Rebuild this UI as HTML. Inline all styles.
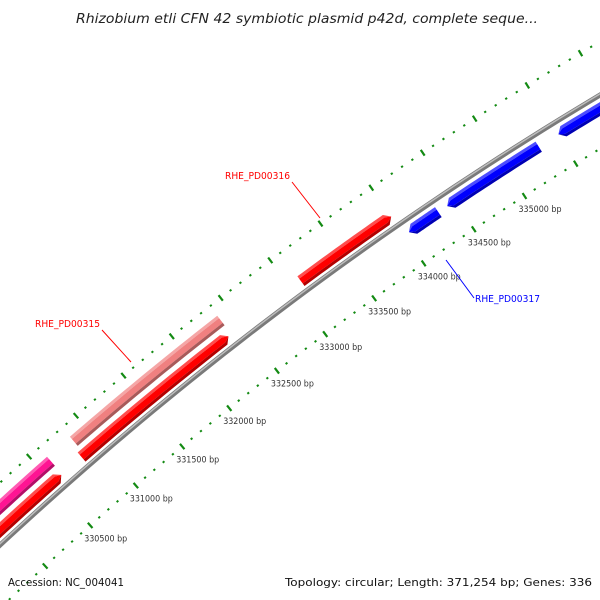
<!DOCTYPE html>
<html><head><meta charset="utf-8"><style>
html,body{margin:0;background:#fff;width:600px;height:600px;overflow:hidden}
svg{display:block;overflow:hidden}
text{font-family:"DejaVu Sans","Liberation Sans",sans-serif}
</style></head><body>
<svg id="map" width="600" height="600" viewBox="0 0 600 600">
<text x="76" y="23" font-style="italic" font-size="13" fill="#222" textLength="462" lengthAdjust="spacingAndGlyphs">Rhizobium etli CFN 42 symbiotic plasmid p42d, complete seque...</text>
<g id="ticks"></g>
<g id="bb"></g>
<g id="genes"></g>
<g id="labels"></g>
<text x="8" y="586" font-size="11" fill="#111" textLength="116" lengthAdjust="spacingAndGlyphs">Accession: NC_004041</text>
<text x="285" y="586" font-size="11" fill="#111" textLength="307" lengthAdjust="spacingAndGlyphs">Topology: circular; Length: 371,254 bp; Genes: 336</text>
</svg>
<script>
const geneNames=["gene-a","gene-b","RHE_PD00315","gene-e","RHE_PD00316","RHE_PD00317","gene-c","gene-d"];
const geneStarts=[329400,329500,330852,330816,333099,334046,334424,335505];
const geneEnds=[330607,330597,332390,332360,334000,334337,335316,336800];
const geneStrands=[1,1,1,1,1,-1,-1,-1];
const geneRings=[2,1,2,1,1,0,0,0];
const geneColors=["#ff1493","#ff0000","#f08080","#ff0000","#ff0000","#0000ff","#0000ff","#0000ff"];
const geneLabeled=[false,false,true,false,true,true,false,false];
const tickStart=329000, tickEnd=337500, tickStep=100, majorStep=500;
const tickLabelMin=330500, tickLabelMax=335000;

const NS="http://www.w3.org/2000/svg";
const CX=2440, CY=3173, RB=3586;
const ringR=[3574,3597,3614];
const BW=12;
function ang(bp){return (-131.59+(bp-330500)*0.0019625)*Math.PI/180;}
function pt(r,bp){const a=ang(bp);return [CX+r*Math.cos(a),CY+r*Math.sin(a)];}
function mk(tag,attrs,parent){const e=document.createElementNS(NS,tag);for(const k in attrs)e.setAttribute(k,attrs[k]);parent.appendChild(e);return e;}
function arcPts(r,b0,b1,n){const p=[];for(let i=0;i<=n;i++){p.push(pt(r,b0+(b1-b0)*i/n));}return p;}
function poly(p){return p.map(q=>q[0].toFixed(2)+","+q[1].toFixed(2)).join(" ");}

// backbone
const bb=document.getElementById('bb');
const bl=mk('polyline',{points:poly(arcPts(RB,328900,337600,60)),fill:'none',stroke:'#7a7a7a','stroke-width':5},bb);


const bh=mk('polyline',{points:poly(arcPts(RB+1,328900,337600,60)),fill:'none',stroke:'#bdbdbd','stroke-width':1.5},bb);



// ticks
const tg=document.getElementById('ticks');
for(let bp=tickStart;bp<=tickEnd;bp+=tickStep){
  const major=bp%majorStep===0;
  [3540,3632].forEach(r=>{
    const h=major?3.5:1;
    const a=pt(r-h,bp), b=pt(r+h,bp);
    const l=mk('line',{x1:a[0],y1:a[1],x2:b[0],y2:b[1],stroke:'#138a13','stroke-width':2.2},tg);
    
    
  });
  if(major && bp>=tickLabelMin && bp<=tickLabelMax){
    const p=pt(3540,bp);
    const t=mk('text',{x:(p[0]-6).toFixed(1),y:(p[1]+16).toFixed(1),'font-size':'8.5',fill:'#333',textLength:'43',lengthAdjust:'spacingAndGlyphs'},tg);
    t.textContent=bp+" bp";
    
    
  }
}

// genes
function shade(c,f){const n=parseInt(c.slice(1),16);let r=n>>16,g=(n>>8)&255,b=n&255;
  const m=x=>Math.max(0,Math.min(255,Math.round(f>1?x+(255-x)*(f-1):x*f)));
  return "rgb("+m(r)+","+m(g)+","+m(b)+")";}
const gg=document.getElementById('genes');
geneNames.forEach((name,i)=>{
  const r=ringR[geneRings[i]], s=geneStarts[i], e=geneEnds[i], st=geneStrands[i];
  const aBp = geneRings[i]!==2 ? (6/RB)*(180/Math.PI)/0.0019625 : 0;
  const g=mk('g',{},gg);
  
  
  const layers=[[r+BW/2,r+BW/2-3,shade(geneColors[i],1.3)],[r+BW/2-3,r-BW/2+3,geneColors[i]],[r-BW/2+3,r-BW/2,shade(geneColors[i],0.7)]];
  layers.forEach(([ro,ri,col])=>{
    let pts;
    if(st>0){
      const b1=e-aBp;
      pts=arcPts(ro,s,b1,20).concat(aBp?[pt(r,e)]:[],arcPts(ri,s,b1,20).reverse());
    } else {
      const b0=s+aBp;
      pts=(aBp?[pt(r,s)]:[]).concat(arcPts(ro,b0,e,20),arcPts(ri,b0,e,20).reverse());
    }
    mk('polygon',{points:poly(pts),fill:col},g);
  });
});

// labels
const lg=document.getElementById('labels');
const labelPos={"RHE_PD00315":[35,327,102,330,131,362,"#ff0000"],"RHE_PD00316":[225,179,292,182,320,218,"#ff0000"],"RHE_PD00317":[475,302,446,260,474,298,"#0000ff"]};
geneNames.forEach((name,i)=>{
  if(!geneLabeled[i])return;
  const L=labelPos[name];
  const t=mk('text',{x:L[0],y:L[1],'font-size':'10',fill:L[6],textLength:'65',lengthAdjust:'spacingAndGlyphs'},lg);
  t.textContent=name;
  
  
  const l=mk('line',{x1:L[2],y1:L[3],x2:L[4],y2:L[5],stroke:L[6],'stroke-width':1},lg);
  
  
});
</script>
</body></html>
